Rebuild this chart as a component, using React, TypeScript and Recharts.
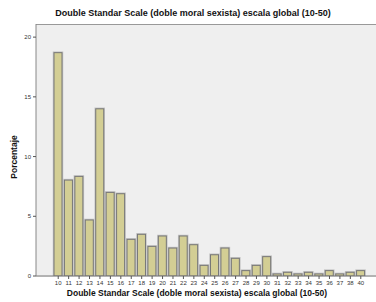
import React from "react";
import { BarChart, Bar, XAxis, YAxis } from "recharts";

const categories = ["10","11","12","13","14","15","16","17","18","19","20","21","22","23","24","25","26","27","28","29","30","31","32","33","34","35","36","37","38","40"];
const percentages = [18.7,8.03,8.34,4.69,14.0,7.0,6.89,3.07,3.49,2.48,3.35,2.34,3.35,2.62,0.89,1.78,2.34,1.48,0.45,0.89,1.62,0.17,0.31,0.17,0.31,0.17,0.45,0.17,0.31,0.45];
const yTicks = [0, 5, 10, 15, 20];

const TITLE = "Double Standar Scale (doble moral sexista) escala global (10-50)";
const data = categories.map((c, i) => ({ cat: c, pct: percentages[i] }));

const BarShape = (props: any) => {
  const { x, y, width, height } = props;
  if (height <= 0) return null;
  return (
    <g>
      <rect x={x - 0.5} y={y - 0.5} width={width + 1} height={height + 0.5} fill="none" stroke="#c4c4c4" strokeWidth={1.5} />
      <rect x={x} y={y} width={width} height={height} fill="#d3ce94" stroke="#777" strokeWidth={1} />
    </g>
  );
};

export default function App() {
  return (
    <div style={{ position: "fixed", left: 0, top: 0, width: 376, height: 302, background: "#fff", fontFamily: "'Liberation Sans', Arial, sans-serif" }}>
      <div style={{ position: "absolute", left: 36, top: 24, width: 340, height: 252, background: "#efefef", borderTop: "1px solid #999" }} />
      <div style={{ position: "absolute", left: 0, top: 8, width: 386, textAlign: "center", fontSize: 9, fontWeight: "bold", color: "#111" }}>{TITLE}</div>
      <div style={{ position: "absolute", left: 0, top: 288, width: 394, textAlign: "center", fontSize: 8.5, fontWeight: "bold", color: "#111" }}>{TITLE}</div>
      <div style={{ position: "absolute", left: 14, top: 157, transform: "translate(-50%,-50%) rotate(-90deg)", fontSize: 8.5, fontWeight: "bold", color: "#111", whiteSpace: "nowrap" }}>Porcentaje</div>
      <div style={{ position: "absolute", left: 0, top: 0 }}>
        <BarChart width={376} height={302} data={data} margin={{ top: 24, right: 0, left: 0, bottom: 0 }} barCategoryGap={0}>
          <XAxis
            dataKey="cat"
            height={26}
            interval={0}
            padding={{ left: 17, right: 10 }}
            tick={{ fontSize: 6, fill: "#333" }}
            tickSize={3}
            tickLine={{ stroke: "#555" }}
            axisLine={{ stroke: "#777" }}
          />
          <YAxis
            width={36}
            domain={[0, 21.1]}
            ticks={yTicks}
            tick={{ fontSize: 6, fill: "#333" }}
            tickSize={3}
            tickLine={{ stroke: "#555" }}
            axisLine={{ stroke: "#888" }}
            allowDataOverflow
          />
          <Bar dataKey="pct" barSize={8} shape={BarShape} isAnimationActive={false} />
        </BarChart>
      </div>
    </div>
  );
}
